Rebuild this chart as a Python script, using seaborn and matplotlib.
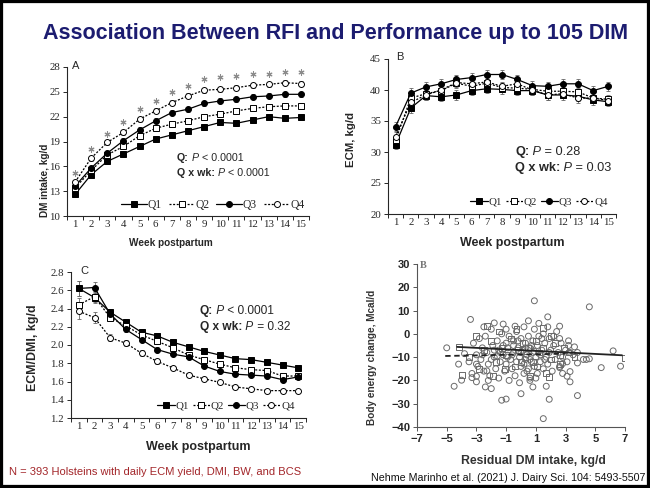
import matplotlib
matplotlib.use('Agg')

import numpy as np
import pandas as pd
import matplotlib.pyplot as plt
import seaborn as sns
from matplotlib.patches import Rectangle

# --------------------------------------------------------------------------- #
# DATA
# --------------------------------------------------------------------------- #
weeks = list(range(1, 16))
quartiles = ["Q1", "Q2", "Q3", "Q4"]

# panel A - DM intake, kg/d
dmi_q1 = [12.6, 15.0, 16.6, 17.5, 18.4, 19.3, 19.8, 20.3, 20.8, 21.3, 21.2, 21.6, 22.0, 21.8, 21.9]
dmi_q2 = [13.4, 15.5, 17.4, 18.4, 19.7, 20.6, 21.1, 21.5, 22.0, 22.3, 22.7, 23.0, 23.2, 23.3, 23.3]
dmi_q3 = [13.6, 15.8, 17.6, 19.1, 20.4, 21.5, 22.5, 22.9, 23.6, 23.9, 24.1, 24.4, 24.5, 24.7, 24.7]
dmi_q4 = [14.1, 17.0, 18.9, 20.1, 21.7, 22.7, 23.7, 24.5, 25.2, 25.3, 25.5, 25.8, 25.9, 26.1, 26.0]
dmi_star = [15.2, 18.1, 19.9, 21.3, 22.9, 23.9, 25.0, 25.7, 26.5, 26.8, 26.9, 27.1, 27.2, 27.4, 27.4]
dmi_se = 0.3

# panel B - ECM, kg/d
ecm_q1 = [31.2, 37.1, 39.1, 38.9, 39.2, 39.9, 40.2, 40.1, 39.9, 39.9, 39.2, 39.2, 39.0, 38.4, 38.1]
ecm_q2 = [31.9, 38.7, 39.4, 39.9, 41.1, 40.6, 41.1, 40.4, 40.3, 40.1, 39.8, 39.8, 39.7, 38.7, 38.5]
ecm_q3 = [34.1, 39.5, 40.5, 41.0, 41.7, 42.0, 42.5, 42.5, 41.7, 40.7, 40.6, 41.0, 41.0, 39.9, 40.6]
ecm_q4 = [32.5, 38.0, 39.2, 40.0, 41.2, 41.0, 41.3, 40.6, 41.0, 40.0, 39.2, 39.4, 38.7, 38.7, 38.3]
ecm_se = 0.75

# panel C - ECM/DMI
eff_q1 = [2.62, 2.52, 2.36, 2.25, 2.14, 2.10, 2.03, 1.98, 1.93, 1.89, 1.85, 1.84, 1.81, 1.78, 1.75]
eff_q2 = [2.44, 2.53, 2.30, 2.21, 2.11, 2.04, 1.97, 1.89, 1.84, 1.79, 1.75, 1.73, 1.72, 1.66, 1.66]
eff_q3 = [2.62, 2.63, 2.34, 2.17, 2.06, 1.95, 1.90, 1.87, 1.77, 1.71, 1.68, 1.67, 1.66, 1.62, 1.65]
eff_q4 = [2.37, 2.30, 2.08, 2.02, 1.91, 1.82, 1.75, 1.67, 1.63, 1.59, 1.54, 1.52, 1.50, 1.50, 1.50]
eff_se = [0.08, 0.06, 0.04, 0.03, 0.03, 0.03, 0.02, 0.02, 0.02, 0.02, 0.02, 0.02, 0.02, 0.02, 0.02]

# panel D - residual DMI vs body energy change (circles and squares)
circ_x = [0.9, 4.6, -3.4, 1.8, -5.0, -4.2, -4.0, -4.5, -3.0, -3.0, -2.4, -2.0, -1.3, -1.0, 0.0,
          0.8, 1.7, 1.9, 1.5, 3.8, 3.3, 3.1, 3.3, 3.8, 4.4, 4.6, 5.4, 6.2, 6.7, 3.2,
          3.6, 0.6, 2.6, 2.8, -3.3, -2.3, -1.8, -1.2, -0.4, 0.5, 1.2, 2.6,
          -3.8, -3.5, -3.2, -3.0, -2.9, -2.8, -2.7, -2.6, -2.5, -2.4, -2.3, -2.2, -2.1, -2.0,
          -1.9, -1.8, -1.7, -1.6, -1.5, -1.5, -1.4, -1.3, -1.2, -1.1, -1.0, -1.0, -0.9, -0.8,
          -0.8, -0.7, -0.6, -0.5, -0.5, -0.4, -0.3, -0.3, -0.2, -0.1, -0.1, 0.0, 0.0, 0.1,
          0.2, 0.2, 0.3, 0.3, 0.4, 0.5, 0.5, 0.6, 0.6, 0.7, 0.8, 0.8, 0.9, 0.9, 1.0,
          1.1, 1.1, 1.2, 1.3, 1.4, 1.5, 1.5, 1.6, 1.7, 1.8, 1.9, 2.0, 2.1, 2.2, 2.3,
          2.4, 2.5, 2.6, 2.7, 2.8, 3.0, 3.1, 3.3, 3.5, 3.8, 4.2, -2.0, -1.2, -0.6, 0.2,
          0.7, 1.3, 1.9, 2.6, -2.6, -1.8, -0.2, 0.4, 1.0, -3.3, -2.2, 2.8, -0.9, 0.0,
          0.6, 1.6, -1.4, -3.0, 3.2, -2.5, -1.0, 1.8, 2.2, 0.3, -0.5, 1.4, -1.6, 0.9]
circ_y = [14.2, 11.6, 6.2, 7.3, -6.0, -13.0, -19.9, -22.5, -18.2, -20.6, -22.8, -23.5, -28.5, -28.0, -25.7,
          -22.8, -22.5, -28.1, -36.4, -26.5, -20.6, -18.2, -16.2, -12.5, -11.0, -10.7, -14.5, -7.3, -13.9, -3.0,
          -5.6, -20.0, -14.5, -12.8, -18.8, -15.9, 4.7, 4.2, 3.3, 5.6, 4.5, 3.3,
          -8.5, -12.0, -4.0, -9.0, -14.0, -2.0, -11.0, -6.0, -16.0, -1.0, -8.0, -13.0, -18.0, 2.0,
          -5.0, -10.0, -15.0, -3.0, -7.0, -19.0, -12.0, 0.0, -9.0, -16.0, -4.0, -13.0, -6.0, -20.0,
          -1.0, -11.0, -15.0, -3.0, -8.0, -18.0, 1.0, -12.0, -6.0, -10.0, -21.0, -2.0, -14.0, -7.0,
          -17.0, 3.0, -4.0, -11.0, -9.0, -1.0, -15.0, -6.0, -19.0, -12.0, -3.0, -8.0, 2.0, -14.0, -10.0,
          -5.0, -17.0, -1.0, -12.0, -7.0, -15.0, 0.0, -4.0, -10.0, -13.0, -2.0, -7.0, -16.0, -5.0, -11.0,
          1.0, -8.0, -14.0, -4.0, -10.0, -7.0, -12.0, -8.0, -9.0, -8.0, -11.0, -11.0, -5.0, -9.0, -13.0,
          -5.0, -9.0, -8.0, -2.0, -9.0, -7.0, -3.0, -16.0, -19.0, -17.0, -20.0, -17.0, -10.0, -8.0,
          -11.0, -11.0, -8.0, -13.0, -5.0, 3.0, 2.0, 3.0, -1.0, -6.0, -5.0, -2.0, -9.5, -7.5]
sq_x = [-4.2, -4.0, 7.0, -2.3, 1.5, -3.0, -2.5, -2.0, -1.7, -1.3, -1.0, -0.7, -0.4, -0.2, 0.1,
        0.3, 0.5, 0.8, 1.0, 1.2, 1.5, 1.7, 2.0, 2.3, 2.6, 2.9, 3.2, -3.5, -2.8, -1.5,
        0.6, -0.3, 2.0, 3.6, -1.9, 1.9, 0.0, -1.1, 1.1, 2.6]
sq_y = [-5.8, -17.8, -10.5, 3.3, 2.6, -1.0, -7.0, -3.0, -12.0, -6.0, -9.0, -2.0, -14.0, -7.0, -4.0,
        -10.0, -6.0, -12.0, -3.0, -8.0, -6.0, -17.0, -11.0, -4.0, -9.0, -6.0, -8.0, -10.0, -15.0, 1.0,
        -18.0, 2.0, -1.0, -10.0, -18.0, -18.5, -12.0, -15.0, -14.0, -13.0]
fit_solid_x = [-4.3, 6.8]
fit_solid_y = [-5.6, -9.2]
fit_dash_x = [-5.1, 3.0]
fit_dash_y = [-9.5, -8.5]

STYLE = {
    "Q1": dict(marker="s", markerfacecolor="black", linestyle="-"),
    "Q2": dict(marker="s", markerfacecolor="white", linestyle=(0, (1.6, 1.3))),
    "Q3": dict(marker="o", markerfacecolor="black", linestyle="-"),
    "Q4": dict(marker="o", markerfacecolor="white", linestyle=(0, (1.6, 1.3))),
}

W, H = 650, 488


def fx(px):
    return px / W


def fy(py):
    return 1 - py / H


def rect(l, t, r, b):
    return [fx(l), fy(b), (r - l) / W, (b - t) / H]


sns.set_style("ticks")
plt.rcParams['font.family'] = ['Liberation Sans', 'DejaVu Sans']

fig = plt.figure(figsize=(6.5, 4.88), dpi=100)
fig.patch.set_facecolor("white")
renderer = fig.canvas.get_renderer()


def stat_line(x, y, head, rest, size):
    # bold head, italic P, then the plain remainder, placed one after another
    x0 = fx(x)
    for txt, kw in [(head, dict(fontweight="bold")), (" P", dict(style="italic")),
                    (" " + rest, {})]:
        t = fig.text(x0, fy(y), txt, fontsize=size, va="center", **kw)
        x0 = t.get_window_extent(renderer).x1 / W


def week_panel(ax, series, se, ylim, yticks, yfmt, ylabel, lab_xy, lab_sizes,
               letter, letter_xy, stats, stats_xy, stats_size, leg_xy, leg_kw):
    for q, vals in zip(quartiles, series):
        ax.errorbar(weeks, vals, yerr=se, fmt="none", ecolor="#666666",
                    elinewidth=0.6, capsize=1.2, capthick=0.6, zorder=1)
        sns.lineplot(x=weeks, y=vals, ax=ax, color="black", markersize=4.3,
                     markeredgecolor="black", markeredgewidth=0.7, linewidth=0.9,
                     label=q, zorder=3, **STYLE[q])
    ax.set_xlim(0.5, 15.5)
    ax.set_ylim(*ylim)
    ax.set_yticks(yticks)
    ax.set_yticklabels([yfmt.format(v) for v in yticks])
    ax.set_xticks(np.arange(0.5, 16, 1))
    ax.set_xticklabels([])
    ax.set_xticks(weeks, minor=True)
    ax.set_xticklabels([str(w) for w in weeks], minor=True)
    ax.tick_params(axis="x", which="major", length=3, width=0.7, direction="out")
    ax.tick_params(axis="x", which="minor", length=0, pad=3)
    ax.tick_params(axis="y", length=3, width=0.7, pad=2)
    for lbl in ax.get_xticklabels(minor=True) + ax.get_yticklabels():
        lbl.set_family("Liberation Serif")
        lbl.set_fontsize(7.8)
    for s in ["left", "bottom"]:
        ax.spines[s].set_linewidth(0.8)
    sns.despine(ax=ax)
    ax.set_xlabel("Week postpartum", fontsize=lab_sizes[0], fontweight="bold")
    ax.set_ylabel(ylabel, fontsize=lab_sizes[1], fontweight="bold")
    ax.xaxis.set_label_coords(lab_xy[0], lab_xy[1])
    ax.yaxis.set_label_coords(lab_xy[2], lab_xy[3])
    ax.patch.set_alpha(0)
    fig.text(fx(letter_xy[0]), fy(letter_xy[1]), letter, fontsize=8, va="center")
    stat_line(stats_xy[0], stats_xy[1], "Q:", stats[0], stats_size)
    stat_line(stats_xy[0], stats_xy[2], "Q x wk:", stats[1], stats_size)
    ax.legend(loc="center", bbox_to_anchor=(fx(leg_xy[0]), fy(leg_xy[1])),
              bbox_transform=fig.transFigure, ncol=4, frameon=False,
              handletextpad=0.1, **leg_kw)
    return ax


# panel A
axA = fig.add_axes(rect(67, 67, 309, 216))
sns.scatterplot(x=weeks, y=dmi_star, ax=axA, marker=(6, 2, 0), s=14,
                color="#8c8c8c", linewidth=0.8, zorder=4, legend=False)
week_panel(axA, [dmi_q1, dmi_q2, dmi_q3, dmi_q4], dmi_se, (10, 28),
           [10, 13, 16, 19, 22, 25, 28], "{:.0f}", "DM intake, kg/d",
           (0.43, -0.148, -0.07, 0.24), (7.2, 7.2), "A", (72, 66),
           ["< 0.0001", "< 0.0001"], (177, 158, 173), 7.7, (213, 205),
           dict(handlelength=2.2, columnspacing=0.6,
                prop={"family": "Liberation Serif", "size": 8.3}))

# panel B
axB = fig.add_axes(rect(388, 59, 616, 214))
week_panel(axB, [ecm_q1, ecm_q2, ecm_q3, ecm_q4], ecm_se, (20, 45),
           [20, 25, 30, 35, 40, 45], "{:.0f}", "ECM, kg/d",
           (0.545, -0.148, -0.14, 0.48), (9.0, 8.2), "B", (396, 57),
           ["= 0.28", "= 0.03"], (515, 152, 168), 9.2, (539, 202),
           dict(handlelength=1.6, columnspacing=0.3,
                prop={"family": "Liberation Serif", "size": 7.8}))

# panel C
axC = fig.add_axes(rect(71, 272, 306, 418))
week_panel(axC, [eff_q1, eff_q2, eff_q3, eff_q4], eff_se, (1.2, 2.8),
           [1.2, 1.4, 1.6, 1.8, 2.0, 2.2, 2.4, 2.6, 2.8], "{:.1f}", "ECM/DMI, kg/d",
           (0.54, -0.158, -0.136, 0.48), (9.0, 8.9), "C", (80, 271),
           ["< 0.0001", "= 0.32"], (200, 311, 327), 8.6, (226, 406),
           dict(handlelength=1.6, columnspacing=0.3,
                prop={"family": "Liberation Serif", "size": 7.8}))

# panel D - scatter
axD = fig.add_axes(rect(417, 264, 625, 427))
sns.scatterplot(x=circ_x, y=circ_y, ax=axD, marker="o", s=18, facecolor="none",
                edgecolor="#6a6a6a", linewidth=0.7, zorder=2, legend=False)
sns.scatterplot(x=sq_x, y=sq_y, ax=axD, marker="s", s=18, facecolor="none",
                edgecolor="#6a6a6a", linewidth=0.7, zorder=2, legend=False)
sns.lineplot(x=fit_solid_x, y=fit_solid_y, ax=axD, color="#222222", linewidth=1.3, zorder=3)
sns.lineplot(x=fit_dash_x, y=fit_dash_y, ax=axD, color="#222222", linewidth=1.3,
             linestyle=(0, (3, 2)), zorder=3)
axD.set_xlim(-7, 7)
axD.set_ylim(-40, 30)
axD.set_xticks(range(-7, 8, 2))
axD.set_yticks(range(-40, 31, 10))
axD.tick_params(length=3, width=0.7, color="#555555", labelsize=8, pad=2)
for lbl in axD.get_xticklabels() + axD.get_yticklabels():
    lbl.set_fontweight("bold")
for s in ["left", "bottom"]:
    axD.spines[s].set_color("#555555")
    axD.spines[s].set_linewidth(0.8)
sns.despine(ax=axD)
axD.set_xlabel("Residual DM intake, kg/d", fontsize=8.8, fontweight="bold", color="#333333")
axD.set_ylabel("Body energy change, Mcal/d", fontsize=7.2, fontweight="bold", color="#333333")
axD.xaxis.set_label_coords(0.56, -0.17)
axD.yaxis.set_label_coords(-0.19, 0.43)
axD.patch.set_alpha(0)
fig.text(fx(420), fy(265), "B", fontsize=7.5, family="Liberation Serif",
         fontweight="bold", color="#777777", va="center")

# slide text
fig.text(fx(336), fy(33), "Association Between RFI and Performance up to 105 DIM",
         ha="center", va="center", fontsize=15.5, fontweight="bold", color="#1c1c70")
fig.text(fx(9), fy(472), "N = 393 Holsteins with daily ECM yield, DMI, BW, and BCS",
         ha="left", va="center", fontsize=8.0, color="#a3262a")
fig.text(fx(645), fy(478), "Nehme Marinho et al. (2021) J. Dairy Sci. 104: 5493-5507",
         ha="right", va="center", fontsize=7.7, color="#111111")

fig.add_artist(Rectangle((0, 0), 1, 1, transform=fig.transFigure, fill=False,
                         edgecolor="black", linewidth=4.5))

fig.savefig("out.png", dpi=100)
plt.close(fig)
print("saved out.png")
